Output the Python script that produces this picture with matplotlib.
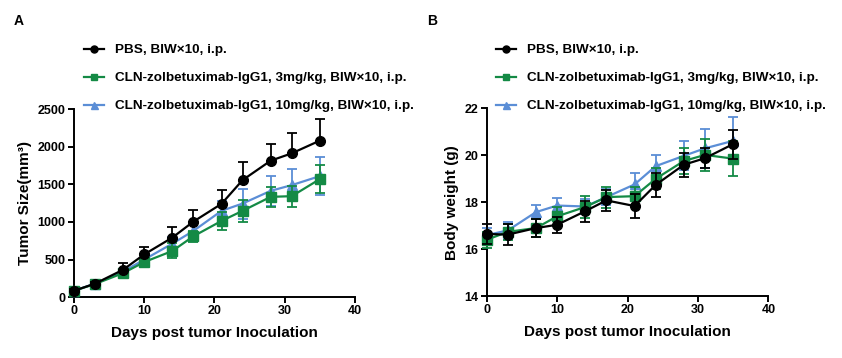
import numpy as np
import matplotlib.pyplot as plt

plt.rcParams['font.family'] = ['Liberation Sans', 'DejaVu Sans']
plt.rcParams['font.weight'] = 'bold'

# days of measurement
days = [0, 3, 7, 10, 14, 17, 21, 24, 28, 31, 35]

# tumor volume (mm3), mean and sem
tv_pbs = [85, 180, 365, 569, 792, 1005, 1241, 1557, 1815, 1913, 2082]
tv_pbs_err = [20, 25, 85, 100, 140, 150, 190, 235, 220, 265, 290]
tv_3mg = [85, 175, 320, 467, 614, 810, 1014, 1148, 1334, 1343, 1570]
tv_3mg_err = [15, 20, 35, 45, 100, 75, 120, 145, 130, 140, 190]
tv_10mg = [85, 180, 340, 500, 712, 881, 1148, 1245, 1414, 1490, 1610]
tv_10mg_err = [15, 20, 40, 55, 90, 100, 130, 200, 200, 210, 250]

# body weight (g), mean and sem
bw_pbs = [16.65, 16.62, 16.90, 17.04, 17.62, 18.08, 17.84, 18.74, 19.60, 19.88, 20.48]
bw_pbs_err = [0.43, 0.45, 0.40, 0.35, 0.45, 0.45, 0.50, 0.52, 0.52, 0.42, 0.62]
bw_3mg = [16.40, 16.74, 16.90, 17.40, 17.80, 18.22, 18.26, 19.00, 19.76, 20.02, 19.86]
bw_3mg_err = [0.35, 0.35, 0.40, 0.40, 0.45, 0.45, 0.40, 0.45, 0.55, 0.67, 0.75]
bw_10mg = [16.60, 16.80, 17.58, 17.86, 17.82, 18.22, 18.76, 19.54, 19.98, 20.30, 20.62]
bw_10mg_err = [0.30, 0.35, 0.30, 0.33, 0.30, 0.35, 0.50, 0.46, 0.62, 0.82, 1.00]

labels = ['PBS, BIW×10, i.p.',
          'CLN-zolbetuximab-IgG1, 3mg/kg, BIW×10, i.p.',
          'CLN-zolbetuximab-IgG1, 10mg/kg, BIW×10, i.p.']
c_black = '#000000'
c_green = '#148a45'
c_blue = '#5b8ed6'

fig = plt.figure(figsize=(8.42, 3.58), dpi=100)
ax1 = fig.add_axes([0.0879, 0.170, 0.3337, 0.525])
ax2 = fig.add_axes([0.578, 0.173, 0.3345, 0.524])


def draw(ax, y_list, err_list, upper_only_black):
    styles = [(c_blue, '^', 7), (c_green, 's', 6.5), (c_black, 'o', 7)]
    order = [2, 1, 0]
    handles = {}
    for i, (col, mk, ms) in zip(order, styles):
        y = np.array(y_list[i])
        e = np.array(err_list[i])
        if i == 0 and upper_only_black:
            yerr = [np.zeros_like(e), e]
        else:
            yerr = e
        h = ax.errorbar(days, y, yerr=yerr, color=col, marker=mk, ms=ms,
                        lw=1.6, elinewidth=1.3, capsize=3.5, capthick=1.3,
                        clip_on=False, zorder=3 + (2 - i))
        handles[i] = h
    return [handles[0], handles[1], handles[2]]


def style(ax, ylim, yticks, ylabel):
    ax.set_xlim(0, 40)
    ax.set_ylim(*ylim)
    ax.set_xticks([0, 10, 20, 30, 40])
    ax.set_yticks(yticks)
    for s in ['top', 'right']:
        ax.spines[s].set_visible(False)
    for s in ['left', 'bottom']:
        ax.spines[s].set_linewidth(1.4)
    ax.tick_params(width=1.4, length=4, labelsize=9, pad=2)
    for t in ax.get_xticklabels() + ax.get_yticklabels():
        t.set_fontweight('bold')
    ax.set_xlabel('Days post tumor Inoculation', fontsize=11, fontweight='bold', labelpad=6)
    ax.set_ylabel(ylabel, fontsize=11, fontweight='bold', labelpad=4)


h1 = draw(ax1, [tv_pbs, tv_3mg, tv_10mg], [tv_pbs_err, tv_3mg_err, tv_10mg_err], True)
style(ax1, (0, 2500), [0, 500, 1000, 1500, 2000, 2500], 'Tumor Size(mm³)')
h2 = draw(ax2, [bw_pbs, bw_3mg, bw_10mg], [bw_pbs_err, bw_3mg_err, bw_10mg_err], False)
style(ax2, (14, 22), [14, 16, 18, 20, 22], 'Body weight (g)')

for ax, hs, x0 in [(ax1, h1, 0.0998), (ax2, h2, 0.589)]:
    leg = fig.legend([h[0] for h in hs], labels, loc='upper left',
                     bbox_to_anchor=(x0, 0.877), frameon=False,
                     fontsize=9.7, handlelength=1.5, handletextpad=0.8,
                     labelspacing=1.15, borderaxespad=0, borderpad=0,
                     markerscale=0.72)
    for t in leg.get_texts():
        t.set_fontweight('bold')

fig.text(0.016, 0.94, 'A', fontsize=10, fontweight='bold', va='center')
fig.text(0.507, 0.94, 'B', fontsize=10, fontweight='bold', va='center')

fig.savefig('out.png', dpi=100)
